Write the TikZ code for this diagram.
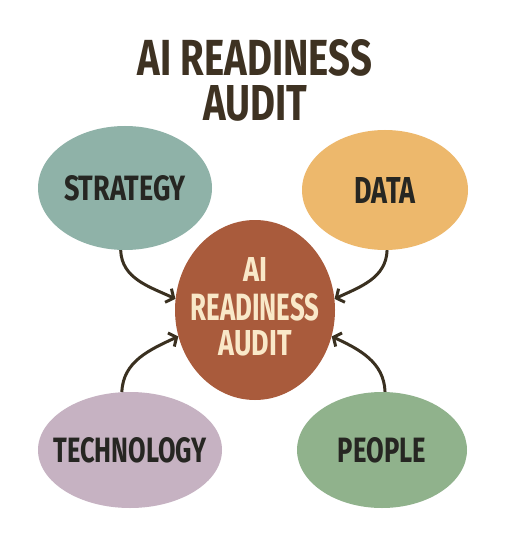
\documentclass[tikz,border=0pt]{standalone}
\usepackage{fontspec}
\usetikzlibrary{shapes.geometric,arrows.meta}
\newfontfamily\hfont{Fira Sans}
\definecolor{titlec}{HTML}{3E3222}
\definecolor{arrowc}{HTML}{3A3020}
\definecolor{stratc}{HTML}{8FB2A8}
\definecolor{datac}{HTML}{EDB86C}
\definecolor{centc}{HTML}{A95B3C}
\definecolor{techc}{HTML}{C6B2C2}
\definecolor{peoc}{HTML}{90B28C}
\definecolor{creamc}{HTML}{F9E8C8}
\definecolor{darkt}{HTML}{262622}
\newcommand\fitt[3]{\resizebox{#1pt}{#2pt}{\hfont\bfseries #3}}
\newcommand\inside[3]{\makebox[0pt]{\raisebox{-0.5\height}[0pt][0pt]{\fitt{#1}{#2}{#3}}}}
\tikzset{
  blob/.style={ellipse, inner sep=0pt, text=darkt},
  lbl/.style={inner sep=0pt, align=center},
  link/.style={draw=arrowc, line width=3pt, -{Straight Barb[length=6pt,width=15pt]}},
}
\begin{document}
\begin{tikzpicture}[x=1pt,y=-1pt]
\useasboundingbox (0,0) rectangle (506,540);
\fill[white] (0,0) rectangle (506,540);
\node[lbl, text=titlec] (title) at (255,80) {\fitt{234}{36}{AI READINESS}\\[8pt]\fitt{104}{35}{AUDIT}};

\node[blob, fill=stratc, minimum width=174pt, minimum height=124pt] (strat) at (125,188) {\inside{122}{25}{STRATEGY}};
\node[blob, fill=datac, minimum width=166pt, minimum height=120pt] (data) at (385,190) {\inside{61}{26}{DATA}};
\node[blob, fill=techc, minimum width=184pt, minimum height=116pt] (tech) at (130,450) {\inside{153}{25}{TECHNOLOGY}};
\node[blob, fill=peoc, minimum width=170pt, minimum height=116pt] (peo) at (382,450) {\inside{88}{25}{PEOPLE}};
\node[blob, fill=centc, minimum width=160pt, minimum height=180pt] (cen) at (255,310) {};
\node[lbl, text=creamc] (clabel) at (255,306.5) {\fitt{24}{24}{AI}\\[11pt]\fitt{129}{27}{READINESS}\\[8pt]\fitt{73}{25}{AUDIT}};

\draw[link] (strat.266) to[out=-88,in=155] (cen.172);
\draw[link] (tech.98) to[out=88,in=205] (cen.199);
\draw[link] (data.272) to[out=-92,in=25] (cen.8);
\draw[link] (peo.87) to[out=92,in=-25] (cen.-19);
\end{tikzpicture}
\end{document}
